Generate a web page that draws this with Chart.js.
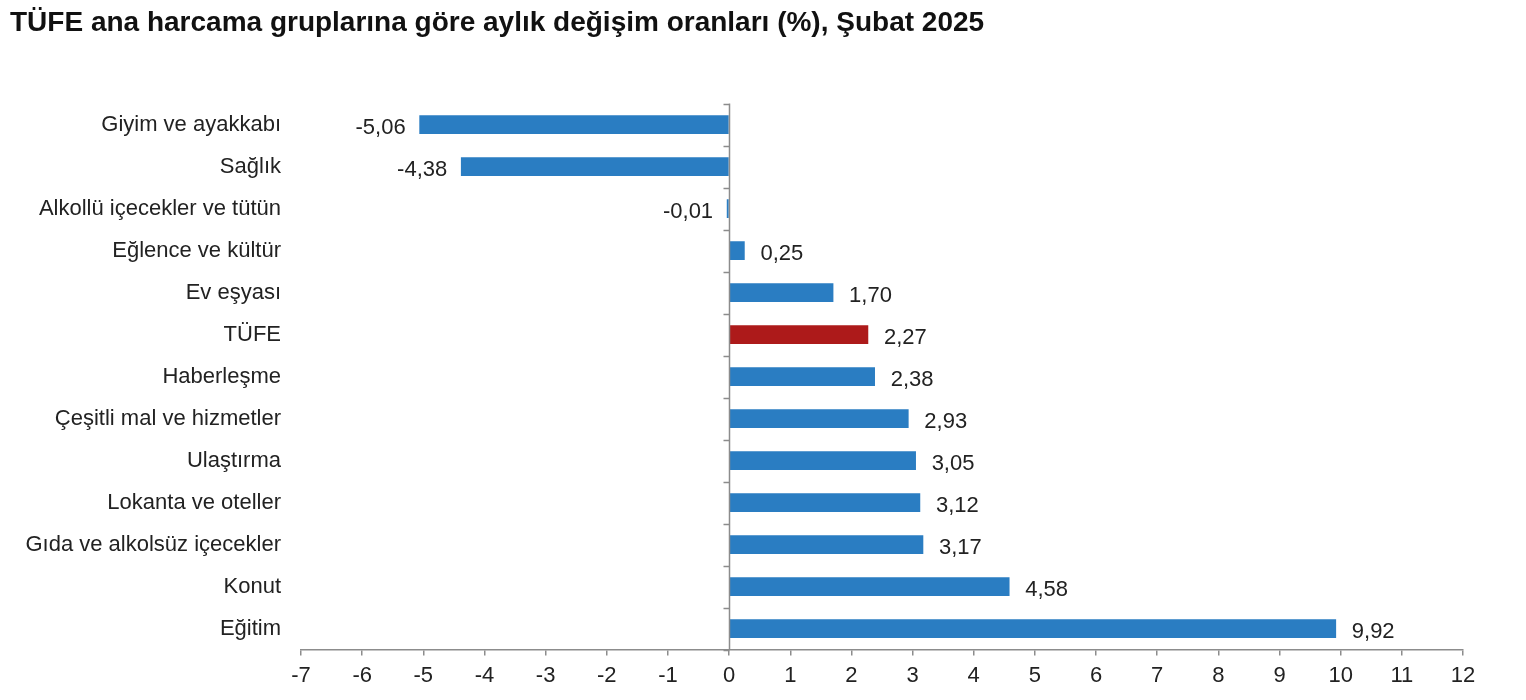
<!DOCTYPE html>
<html>
<head>
<meta charset="utf-8">
<script src="https://cdn.jsdelivr.net/npm/chart.js@4.4.1/dist/chart.umd.min.js"></script>
<style>
  body { margin: 0; background: #fff; }
  #wrap { width: 1526px; height: 700px; }
</style>
</head>
<body>
<div id="wrap"><canvas id="myChart"></canvas></div>
<script>
// categories, top to bottom
const categories = [
  'Giyim ve ayakkabı', 'Sağlık', 'Alkollü içecekler ve tütün', 'Eğlence ve kültür',
  'Ev eşyası', 'TÜFE', 'Haberleşme', 'Çeşitli mal ve hizmetler', 'Ulaştırma',
  'Lokanta ve oteller', 'Gıda ve alkolsüz içecekler', 'Konut', 'Eğitim'
];
// monthly change, %
const changes = [-5.06, -4.38, -0.01, 0.25, 1.70, 2.27, 2.38, 2.93, 3.05, 3.12, 3.17, 4.58, 9.92];
const headline = 'TÜFE';

const xMin = -7;
const xMax = 12;

const FONT = "'Liberation Sans', Arial, sans-serif";
const axisGrey = '#8c8c8c';

var barColors = categories.map(c => c === headline ? '#ad1a1a' : '#2a7dc2');

// zero line with little ticks between the categories
const zeroLine = {
  id: 'zeroLine',
  afterDatasetsDraw(chart) {
    const x = chart.scales.x, y = chart.scales.y, ctx = chart.ctx;
    const x0 = Math.round(x.getPixelForValue(0)) + 0.5;
    ctx.save();
    ctx.strokeStyle = axisGrey;
    ctx.lineWidth = 1.5;
    ctx.beginPath();
    ctx.moveTo(x0, chart.chartArea.top);
    ctx.lineTo(x0, chart.chartArea.bottom);
    for (let i = 0; i <= categories.length; i++) {
      const py = Math.round(y.getPixelForValue(i - 0.5)) + 0.5;
      ctx.moveTo(x0 - 6, py);
      ctx.lineTo(x0, py);
    }
    ctx.stroke();
    ctx.restore();
  }
};

// value labels next to the bar ends
const valueLabels = {
  id: 'valueLabels',
  afterDatasetsDraw(chart) {
    const ctx = chart.ctx;
    const meta = chart.getDatasetMeta(0);
    ctx.save();
    ctx.font = '22px ' + FONT;
    ctx.fillStyle = '#222';
    ctx.textBaseline = 'middle';
    meta.data.forEach((bar, i) => {
      const v = changes[i];
      const txt = v.toFixed(2).replace('.', ',');
      if (v >= 0) {
        ctx.textAlign = 'left';
        ctx.fillText(txt, bar.x + 16, bar.y + 3);
      } else {
        ctx.textAlign = 'right';
        ctx.fillText(txt, bar.x - 14, bar.y + 3);
      }
    });
    ctx.restore();
  }
};

const config = {
  type: 'bar',
  data: {
    labels: categories,
    datasets: [{
      data: changes,
      backgroundColor: barColors,
      barThickness: 18,
      minBarLength: 2,
      borderWidth: 0
    }]
  },
  options: {
    indexAxis: 'y',
    responsive: true,
    maintainAspectRatio: false,
    animation: false,
    layout: { padding: { left: 10, right: 63, top: 0, bottom: 4 } },
    plugins: {
      legend: { display: false },
      tooltip: { enabled: false },
      title: {
        display: true,
        text: 'TÜFE ana harcama gruplarına göre aylık değişim oranları (%), Şubat 2025',
        align: 'start',
        color: '#111',
        font: { family: FONT, size: 28, weight: 'bold' },
        padding: { top: 6, bottom: 64 }
      }
    },
    scales: {
      x: {
        min: xMin,
        max: xMax,
        ticks: {
          stepSize: 1,
          color: '#222',
          font: { family: FONT, size: 22 },
          padding: 7
        },
        grid: { drawOnChartArea: false, drawTicks: true, tickLength: 6, color: axisGrey, lineWidth: 1.5 },
        border: { color: axisGrey, width: 1.5 }
      },
      y: {
        ticks: {
          color: '#222',
          font: { family: FONT, size: 22 },
          padding: 12
        },
        grid: { display: false },
        border: { display: false },
        afterFit(scale) { scale.width = 291; }
      }
    }
  },
  plugins: [zeroLine, valueLabels]
};

let ctx = document.getElementById('myChart').getContext('2d');
let myChart = new Chart(ctx, config);
</script>
</body>
</html>
